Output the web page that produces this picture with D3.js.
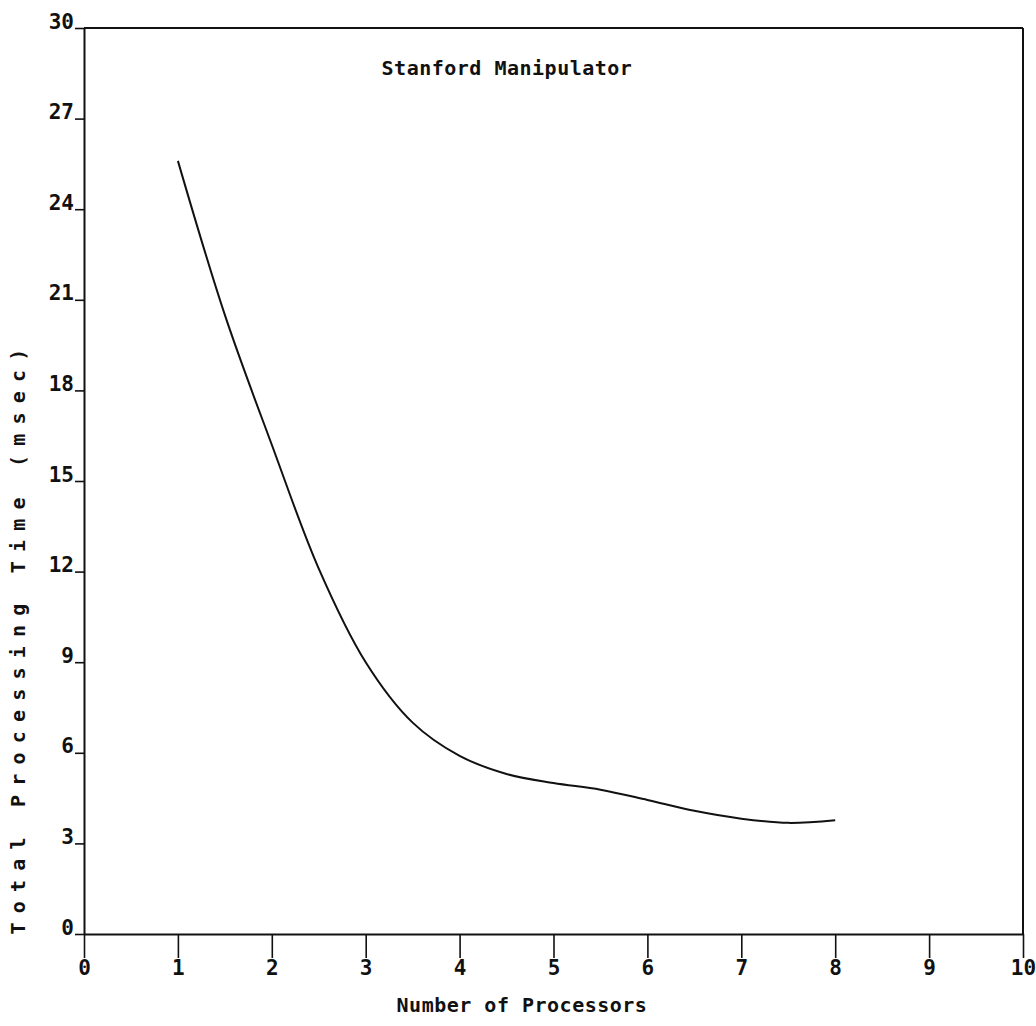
<!DOCTYPE html>
<html>
<head>
<meta charset="utf-8">
<script src="https://cdn.jsdelivr.net/npm/d3@7"></script>
<style>
  html, body { margin: 0; padding: 0; background: #fff; }
  svg { display: block; }
  text { font-family: "DejaVu Sans Mono", "Liberation Mono", monospace; fill: #111; }
</style>
</head>
<body>
<script>
// ---- data ----
const processors = [1, 1.5, 2, 2.5, 3, 3.5, 4, 4.5, 5, 5.5, 6, 6.5, 7, 7.5, 8];
const timeMsec   = [25.6, 20.5, 16.2, 12.1, 9.0, 7.0, 5.9, 5.3, 5.0, 4.78, 4.44, 4.08, 3.82, 3.68, 3.77];
const xTicks = [0, 1, 2, 3, 4, 5, 6, 7, 8, 9, 10];
const yTicks = [0, 3, 6, 9, 12, 15, 18, 21, 24, 27, 30];
const titleText = "Stanford Manipulator";
const xTitle = "Number of Processors";
const yTitle = "Total Processing Time (msec)";

const W = 1036, H = 1026;
const mLeft = 84, mRight = 1023, mTop = 28, mBottom = 934;

const svg = d3.select("body").append("svg").attr("width", W).attr("height", H);

const x = d3.scaleLinear().domain([0, 10]).range([mLeft, mRight]);
const y = d3.scaleLinear().domain([0, 30]).range([mBottom, mTop]);

// frame: top and right
const frame = svg.append("g").attr("stroke", "#111").attr("stroke-width", 2).attr("fill", "none");
frame.append("line").attr("x1", x(0)).attr("x2", x(10)).attr("y1", y(30)).attr("y2", y(30));
frame.append("line").attr("x1", x(10)).attr("x2", x(10)).attr("y1", y(30)).attr("y2", y(0));

// x axis
const xAxis = svg.append("g")
  .attr("transform", `translate(0,${mBottom})`)
  .call(d3.axisBottom(x).tickValues(xTicks).tickFormat(d3.format("d")).tickSize(24).tickSizeOuter(0).tickPadding(4));
xAxis.select(".domain").attr("stroke", "#111").attr("stroke-width", 2);
xAxis.selectAll(".tick line").attr("stroke", "#111").attr("stroke-width", 1.6);
xAxis.selectAll(".tick text")
  .attr("font-family", "DejaVu Sans Mono, monospace")
  .attr("font-weight", "bold")
  .attr("font-size", 21)
  .attr("fill", "#111")
  .attr("dy", "0.6em");

// y axis
const yAxis = svg.append("g")
  .attr("transform", `translate(${mLeft},0)`)
  .call(d3.axisLeft(y).tickValues(yTicks).tickFormat(d3.format("d")).tickSize(9).tickSizeOuter(0).tickPadding(1));
yAxis.select(".domain").attr("stroke", "#111").attr("stroke-width", 2);
yAxis.selectAll(".tick line").attr("stroke", "#111").attr("stroke-width", 1.6);
yAxis.selectAll(".tick text")
  .attr("font-family", "DejaVu Sans Mono, monospace")
  .attr("font-weight", "bold")
  .attr("font-size", 21)
  .attr("fill", "#111")
  .attr("dy", "0em");

// curve
const pts = processors.map((p, i) => [p, timeMsec[i]]);
svg.append("path")
  .datum(pts)
  .attr("fill", "none")
  .attr("stroke", "#111")
  .attr("stroke-width", 2)
  .attr("d", d3.line().x(d => x(d[0])).y(d => y(d[1])).curve(d3.curveCatmullRom.alpha(0.5)));

// titles
svg.append("text")
  .attr("x", 507).attr("y", 75)
  .attr("text-anchor", "middle")
  .attr("font-size", 20)
  .attr("font-weight", "bold")
  .attr("letter-spacing", 0.5)
  .text(titleText);

svg.append("text")
  .attr("x", 522).attr("y", 1012)
  .attr("text-anchor", "middle")
  .attr("font-size", 20)
  .attr("font-weight", "bold")
  .attr("letter-spacing", 0.5)
  .text(xTitle);

svg.append("text")
  .attr("transform", "translate(25,637) rotate(-90)")
  .attr("text-anchor", "middle")
  .attr("font-size", 20)
  .attr("font-weight", "bold")
  .attr("letter-spacing", 9.2)
  .text(yTitle);
</script>
</body>
</html>
